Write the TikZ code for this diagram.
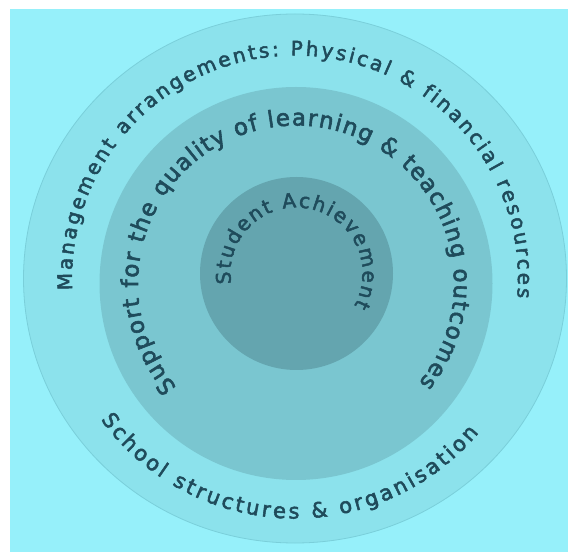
\documentclass[tikz,border=0pt]{standalone}
\usepackage{fontspec}
\setmainfont{DejaVu Sans}
\newfontfamily\arcfont{DejaVu Sans}[FakeBold=2.5]
\usetikzlibrary{decorations.text}
\definecolor{bgc}{HTML}{96F0FA}
\definecolor{ringA}{HTML}{8CE2EC}
\definecolor{ringAedge}{HTML}{7ACFDA}
\definecolor{ringB}{HTML}{7AC6D0}
\definecolor{ringC}{HTML}{64A5AF}
\definecolor{ink}{HTML}{1F4B5B}
\tikzset{
  arctext/.style={decorate, decoration={text along path, text color=ink,
      text align=fit to path, text={#1}}}
}
\begin{document}
\begin{tikzpicture}[x=1pt,y=1pt]
\useasboundingbox (0,0) rectangle (568,552);
\fill[white] (0,0) rectangle (568,552);
\fill[bgc] (10,0) rectangle (568,543);
\coordinate (cA) at (295,273.5);
\coordinate (cB) at (296,268.5);
\coordinate (cC) at (296.5,278.5);
\filldraw[fill=ringA, draw=ringAedge, line width=0.8pt] (cA) ellipse [x radius=271.5pt, y radius=264.5pt];
\fill[ringB] (cB) circle[radius=196.5pt];
\fill[ringC] (cC) circle[radius=96.5pt];
% outer top text
\path[arctext={|\arcfont\fontsize{20}{24}\selectfont|Management arrangements: Physical {\&} financial resources}]
  (cA) ++(183:223pt) arc[start angle=183, end angle=-5, radius=223pt];
% outer bottom text
\path[arctext={|\arcfont\fontsize{21}{25}\selectfont|School structures {\&} organisation}]
  (cA) ++(216:240pt) arc[start angle=216, end angle=320, radius=240pt];
% middle ring text
\path[arctext={|\arcfont\fontsize{23}{27}\selectfont|Support for the quality of learning {\&} teaching outcomes}]
  (cB) ++(221:158pt) arc[start angle=221, end angle=-39, radius=158pt];
% inner text
\path[arctext={|\arcfont\fontsize{20}{24}\selectfont|Student Achievement}]
  (cC) ++(189:66pt) arc[start angle=189, end angle=-29, radius=66pt];
\end{tikzpicture}
\end{document}
